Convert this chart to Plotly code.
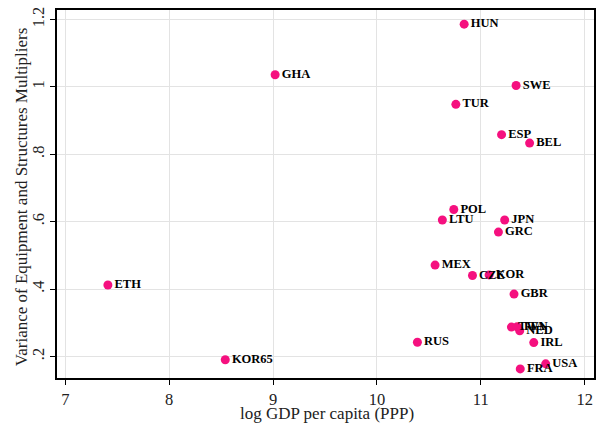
import plotly.graph_objects as go

# Country codes, log GDP per capita (PPP) and variance of multipliers
countries = ["HUN", "GHA", "SWE", "TUR", "ESP", "BEL", "POL", "LTU", "JPN", "GRC",
             "MEX", "CZE", "KOR", "ETH", "GBR", "TWN", "ITA", "NED", "RUS", "IRL",
             "KOR65", "USA", "FRA"]
log_gdp = [10.84, 9.02, 11.34, 10.76, 11.20, 11.47, 10.74, 10.63, 11.23, 11.17,
           10.56, 10.92, 11.08, 7.41, 11.32, 11.295, 11.35, 11.375, 10.39, 11.51,
           8.54, 11.625, 11.38]
variance = [1.186, 1.036, 1.004, 0.948, 0.858, 0.833, 0.636, 0.605, 0.605, 0.569,
            0.471, 0.440, 0.442, 0.412, 0.385, 0.287, 0.288, 0.276, 0.242, 0.241,
            0.190, 0.178, 0.163]

x_ticks = [7, 8, 9, 10, 11, 12]
y_ticks = [0.2, 0.4, 0.6, 0.8, 1.0, 1.2]
y_tick_text = [".2", ".4", ".6", ".8", "1", "1.2"]

x_title = "log GDP per capita (PPP)"
y_title = "Variance of Equipment and Structures Multipliers"

serif = "Liberation Serif, DejaVu Serif, serif"
title_font = dict(family=serif, size=17, color="#222")

fig = go.Figure(
    go.Scatter(
        x=log_gdp,
        y=variance,
        mode="markers+text",
        text=[f"<b>{c}</b>" for c in countries],
        textposition="middle right",
        textfont=dict(family=serif, size=12.5, color="black"),
        marker=dict(color="#f5107f", size=9, line=dict(width=0)),
        cliponaxis=False,
        showlegend=False,
    )
)

axis_common = dict(
    showgrid=True,
    gridcolor="#e3e3e3",
    gridwidth=1,
    zeroline=False,
    showline=True,
    linecolor="black",
    linewidth=1.5,
    mirror=True,
    ticks="outside",
    ticklen=5,
    tickcolor="black",
    automargin=False,
    tickfont=dict(family=serif, size=16.5, color="#222"),
)

fig.update_layout(
    width=607,
    height=425,
    margin=dict(l=57, r=13, t=10, b=47),
    paper_bgcolor="white",
    plot_bgcolor="white",
    xaxis=dict(axis_common, range=[6.92, 12.09], tickvals=x_ticks),
    yaxis=dict(axis_common, range=[0.136, 1.228], tickvals=y_ticks,
               ticktext=y_tick_text, tickangle=-90),
    annotations=[
        # axis titles placed in paper coordinates
        dict(text=x_title, xref="paper", yref="paper", x=0.502, y=-0.097,
             xanchor="center", yanchor="middle", showarrow=False, font=title_font),
        dict(text=y_title, xref="paper", yref="paper", x=-0.066, y=0.493,
             xanchor="center", yanchor="middle", textangle=-90, showarrow=False,
             font=title_font),
    ],
)

fig.write_html("out.html")
